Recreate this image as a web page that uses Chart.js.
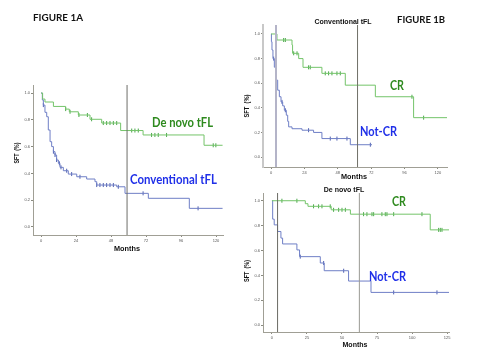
<!DOCTYPE html>
<html>
<head>
<meta charset="utf-8">
<script src="https://cdn.jsdelivr.net/npm/chart.js@4.4.1/dist/chart.umd.min.js"></script>
<style>
  html, body { margin: 0; padding: 0; background: #ffffff; }
  #wrap { position: relative; width: 500px; height: 352px; background: #ffffff; }
  canvas { position: absolute; left: 0; top: 0; }
</style>
</head>
<body>
<div id="wrap">
  <canvas id="cA" width="500" height="352"></canvas>
  <canvas id="cB1" width="500" height="352"></canvas>
  <canvas id="cB2" width="500" height="352"></canvas>
</div>
<script>
// ---------------- DATA ----------------
// Figure 1A
const aDenovoT   = [0, 1.1, 2.7, 8.5, 16.9, 19.4, 25.6, 33.6, 41.6, 54.6, 70, 111.8, 124.5];
const aDenovoS   = [1.0, 0.955, 0.933, 0.90, 0.88, 0.86, 0.836, 0.804, 0.776, 0.72, 0.687, 0.61, 0.61];
const aDenovoCens = [16.9, 19.9, 26, 31.8, 34.7, 42.7, 45, 47.3, 49.6, 51.9, 62.2, 64.4, 66.7, 75.8, 78.1, 80.4, 86.1, 118.1, 119.9];
const aConvT     = [0, 0.9, 1.6, 2.7, 3.9, 5, 6.2, 7.3, 8.5, 9.6, 10.7, 11.9, 13, 15.3, 18.7, 24.5, 31.3, 37, 38.2, 51.9, 57.6, 73.6, 101.7, 124.5];
const aConvS     = [1.0, 0.948, 0.91, 0.856, 0.823, 0.724, 0.637, 0.60, 0.562, 0.537, 0.50, 0.475, 0.445, 0.42, 0.395, 0.375, 0.358, 0.338, 0.313, 0.30, 0.251, 0.214, 0.139, 0.139];
const aConvCens  = [1.6, 8.5, 9.6, 10.7, 12.6, 13.7, 17.6, 21, 26.7, 38.2, 40.4, 42.7, 45, 47.3, 49.6, 53, 70, 107.7];
const aRefLines  = [59];
const aXTicks    = [0, 24, 48, 72, 96, 120];

// Figure 1B - Conventional tFL
const b1CrT      = [0, 4.3, 15.1, 15.5, 19.9, 23, 36.6, 53.4, 75, 102.5, 126.5];
const b1CrS      = [1.0, 0.951, 0.91, 0.843, 0.80, 0.729, 0.68, 0.584, 0.49, 0.32, 0.32];
const b1CrCens   = [9.1, 10.3, 16.3, 18.7, 27, 28.2, 39, 41.4, 43.8, 47.4, 49.8, 101.3, 109.7];
const b1NcrT     = [0, 0.3, 0.7, 1.4, 2.4, 3.6, 4.8, 6, 7.2, 8.4, 9.6, 11, 12, 12.7, 15.1, 22.3, 30.6, 36.6, 57, 72.6];
const b1NcrS     = [1.0, 0.937, 0.87, 0.80, 0.73, 0.625, 0.543, 0.49, 0.448, 0.416, 0.38, 0.34, 0.29, 0.245, 0.23, 0.218, 0.20, 0.15, 0.10, 0.10];
const b1NcrCens  = [1.9, 7.9, 10.3, 27, 42.6, 47.4, 54.6, 71.4];
const b1RefLines = [3.6, 62.2];
const b1XTicks   = [0, 24, 48, 72, 96, 120];

// Figure 1B - De novo tFL
const b2CrT      = [0, 23.8, 25.7, 42.3, 56, 113, 126.4];
const b2CrS      = [1.0, 0.976, 0.955, 0.927, 0.892, 0.766, 0.766];
const b2CrCens   = [7.1, 17.8, 29.7, 33.3, 35.7, 41.6, 44, 47.6, 50, 52.4, 65.4, 67.8, 71.4, 72.6, 78.5, 80.9, 82.1, 86.9, 107.1, 119, 120.2, 121.4];
const b2NcrT     = [0, 0.5, 1.6, 4, 6.4, 7.6, 17.8, 19.7, 34.5, 37.3, 54.7, 70.7, 126.4];
const b2NcrS     = [1.0, 0.852, 0.806, 0.753, 0.70, 0.653, 0.605, 0.551, 0.50, 0.438, 0.355, 0.264, 0.264];
const b2NcrCens  = [20.2, 36.9, 51.2, 86.9, 117.8];
const b2RefLines = [4, 62.4];
const b2XTicks   = [0, 25, 50, 75, 100, 125];

const yTickValues = [0, 0.2, 0.4, 0.6, 0.8, 1.0];
const yTickLabels = ['0.0', '0.2', '0.4', '0.6', '0.8', '1.0'];

// ---------------- HELPERS ----------------
const GREEN_LINE = '#74c46a';
const BLUE_LINE = '#6f7fc6';
const GREEN_TXT = '#2e8a1e';
const BLUE_TXT = '#1f2fe8';

function survAt(ts, ss, c) {
  let v = ss[0];
  for (let i = 0; i < ts.length; i++) { if (ts[i] <= c) v = ss[i]; }
  return v;
}
function stepSet(ts, ss, color) {
  return { data: ts.map((t, i) => ({ x: t, y: ss[i] })), stepped: 'before', borderColor: color,
           borderWidth: 1, pointRadius: 0, fill: false };
}
function censSet(cens, ts, ss, color) {
  return { data: cens.map(c => ({ x: c, y: survAt(ts, ss, c) })), showLine: false, pointStyle: 'line',
           pointRotation: 90, pointRadius: 2, pointBorderWidth: 1, borderColor: color, pointBorderColor: color };
}
function refSet(t, yMin, yMax, color, w) {
  return { data: [{ x: t, y: yMin }, { x: t, y: yMax }], borderColor: color, borderWidth: w, pointRadius: 0, fill: false };
}

const freeText = {
  id: 'freeText',
  afterDraw(chart, args, opts) {
    const ctx = chart.ctx;
    (opts.items || []).forEach(it => {
      ctx.save();
      ctx.font = it.font;
      ctx.fillStyle = it.color;
      ctx.textAlign = it.align || 'center';
      ctx.textBaseline = 'middle';
      ctx.translate(it.x, it.y);
      if (it.rotate) ctx.rotate(it.rotate);
      if (it.w) ctx.fillText(it.text, 0, 0, it.w); else ctx.fillText(it.text, 0, 0);
      ctx.restore();
    });
  }
};

const Y_W = 20, X_H = 15;
function makeChart(id, area, xMin, xMax, yMin, yMax, xTicks, datasets, items, yBorder) {
  return new Chart(document.getElementById(id), {
    type: 'line',
    data: { datasets },
    options: {
      responsive: false, animation: false, devicePixelRatio: 1,
      layout: { padding: { left: area.l - Y_W, right: 500 - area.r, top: area.t, bottom: 352 - area.b - X_H } },
      plugins: { legend: { display: false }, tooltip: { enabled: false }, title: { display: false },
                 freeText: { items } },
      scales: {
        x: {
          type: 'linear', min: xMin, max: xMax,
          afterBuildTicks: ax => { ax.ticks = xTicks.map(v => ({ value: v })); },
          afterFit: s => { s.height = X_H; },
          ticks: { font: { size: 4, family: 'Liberation Sans' }, color: '#555', padding: 1, maxRotation: 0,
                   callback: v => String(v) },
          grid: { drawOnChartArea: false, drawTicks: true, tickLength: 2, color: '#8a8a80' },
          border: { color: '#a09f95', width: 1 }
        },
        y: {
          type: 'linear', min: yMin, max: yMax,
          afterBuildTicks: ax => { ax.ticks = yTickValues.map(v => ({ value: v })); },
          afterFit: s => { s.width = Y_W; },
          ticks: { font: { size: 4, family: 'Liberation Sans' }, color: '#555', padding: 1,
                   callback: v => { const i = yTickValues.findIndex(t => Math.abs(t - v) < 1e-6); return i >= 0 ? yTickLabels[i] : ''; } },
          grid: { drawOnChartArea: false, drawTicks: true, tickLength: 2, color: '#8a8a80' },
          border: yBorder || { color: '#a09f95', width: 1 }
        }
      }
    },
    plugins: [freeText]
  });
}

const boldSmall = 'bold 8px "Liberation Sans"';
const SFT = 'SFT  (%)';

// ---------------- FIGURE 1A ----------------
{
  const yMin = -0.06, yMax = 1.06;
  const ds = [
    ...aRefLines.map(t => refSet(t, yMin, yMax, '#6e6e68', 1)),
    stepSet(aDenovoT, aDenovoS, GREEN_LINE),
    stepSet(aConvT, aConvS, BLUE_LINE),
    censSet(aDenovoCens, aDenovoT, aDenovoS, '#4aa84a'),
    censSet(aConvCens, aConvT, aConvS, '#4e5fb0')
  ];
  makeChart('cA', { l: 33, r: 223, t: 85, b: 235 }, -5.5, 124.8, yMin, yMax, aXTicks, ds, [
    { text: 'FIGURE 1A', x: 33, y: 18, align: 'left', font: 'bold 10px Lato', color: '#111', w: 50 },
    { text: SFT, x: 17, y: 153, rotate: -Math.PI / 2, font: boldSmall, color: '#111', w: 21 },
    { text: 'Months', x: 127, y: 249, font: boldSmall, color: '#111', w: 26 },
    { text: 'De novo tFL', x: 152, y: 123, align: 'left', font: 'bold 13px Lato', color: GREEN_TXT, w: 61 },
    { text: 'Conventional tFL', x: 130, y: 180, align: 'left', font: 'bold 13px Lato', color: BLUE_TXT, w: 87 }
  ]);
}

// ---------------- FIGURE 1B top ----------------
{
  const yMin = -0.081, yMax = 1.073;
  const ds = [
    refSet(b1RefLines[0], yMin, yMax, '#b4b4c8', 2),
    refSet(b1RefLines[1], yMin, yMax, '#707068', 1),
    stepSet(b1CrT, b1CrS, GREEN_LINE),
    stepSet(b1NcrT, b1NcrS, BLUE_LINE),
    censSet(b1CrCens, b1CrT, b1CrS, '#4aa84a'),
    censSet(b1NcrCens, b1NcrT, b1NcrS, '#4e5fb0')
  ];
  makeChart('cB1', { l: 263, r: 447, t: 25, b: 167 }, -5.75, 126.5, yMin, yMax, b1XTicks, ds, [
    { text: 'FIGURE 1B', x: 397, y: 19.5, align: 'left', font: 'bold 10px Lato', color: '#111', w: 48 },
    { text: 'Conventional tFL', x: 343, y: 22.5, font: 'bold 7px "Liberation Sans"', color: '#111', w: 58 },
    { text: SFT, x: 247, y: 106, rotate: -Math.PI / 2, font: boldSmall, color: '#111', w: 23 },
    { text: 'Months', x: 354, y: 177, font: boldSmall, color: '#111', w: 26 },
    { text: 'CR', x: 390, y: 86, align: 'left', font: 'bold 13px Lato', color: GREEN_TXT, w: 14 },
    { text: 'Not-CR', x: 360, y: 132, align: 'left', font: 'bold 13px Lato', color: BLUE_TXT, w: 37 }
  ], { color: '#c8c8c8', width: 2 });
}

// ---------------- FIGURE 1B bottom ----------------
{
  const yMin = -0.054, yMax = 1.062;
  const ds = [
    refSet(b2RefLines[0], yMin, yMax, '#6a6a64', 1),
    refSet(b2RefLines[1], yMin, yMax, '#9a9a94', 1),
    stepSet(b2CrT, b2CrS, GREEN_LINE),
    stepSet(b2NcrT, b2NcrS, BLUE_LINE),
    censSet(b2CrCens, b2CrT, b2CrS, '#4aa84a'),
    censSet(b2NcrCens, b2NcrT, b2NcrS, '#4e5fb0')
  ];
  makeChart('cB2', { l: 263, r: 449, t: 193, b: 332 }, -6.4, 126.4, yMin, yMax, b2XTicks, ds, [
    { text: 'De novo tFL', x: 344, y: 190.5, font: 'bold 7px "Liberation Sans"', color: '#111', w: 41 },
    { text: SFT, x: 247, y: 271, rotate: -Math.PI / 2, font: boldSmall, color: '#111', w: 22 },
    { text: 'Months', x: 355, y: 344.5, font: boldSmall, color: '#111', w: 25 },
    { text: 'CR', x: 392, y: 202, align: 'left', font: 'bold 13px Lato', color: GREEN_TXT, w: 14 },
    { text: 'Not-CR', x: 369, y: 277, align: 'left', font: 'bold 13px Lato', color: BLUE_TXT, w: 37 }
  ]);
}
</script>
</body>
</html>
